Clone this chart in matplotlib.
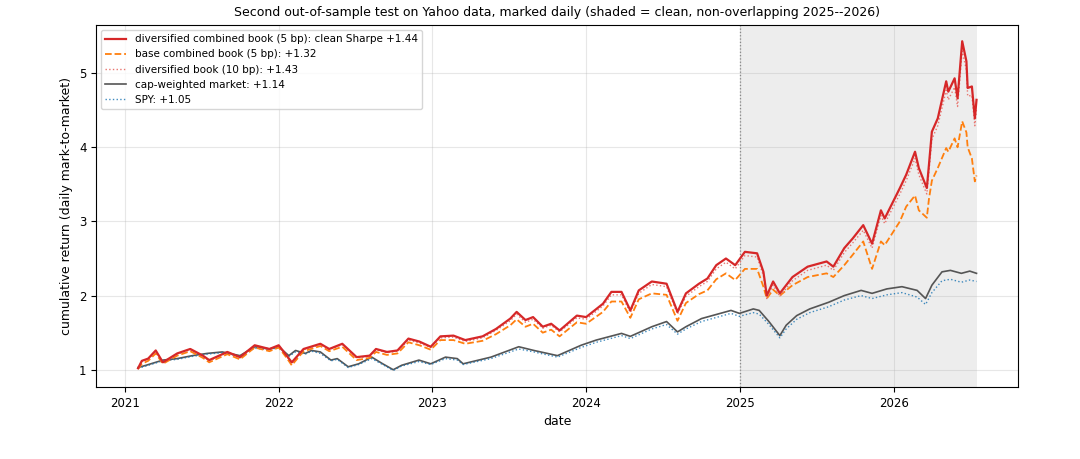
import pandas as pd
import matplotlib
matplotlib.use("Agg")
import matplotlib.pyplot as plt

# strategy books
book_dates = [
    "2021-02-01", "2021-02-10", "2021-02-25", "2021-03-15", "2021-04-01", "2021-05-05",
    "2021-06-05", "2021-07-05", "2021-07-20", "2021-09-01", "2021-10-01", "2021-11-05",
    "2021-12-10", "2022-01-01", "2022-01-20", "2022-02-01", "2022-03-01", "2022-04-10",
    "2022-05-01", "2022-06-01", "2022-07-05", "2022-08-05", "2022-08-20", "2022-09-15",
    "2022-10-10", "2022-11-05", "2022-12-01", "2022-12-28", "2023-01-20", "2023-02-20",
    "2023-03-20", "2023-04-30", "2023-06-01", "2023-07-05", "2023-07-20", "2023-08-10",
    "2023-08-28", "2023-09-20", "2023-10-10", "2023-10-30", "2023-12-10", "2024-01-01",
    "2024-02-10", "2024-03-01", "2024-03-25", "2024-04-15", "2024-05-05", "2024-06-05",
    "2024-07-10", "2024-08-05", "2024-08-25", "2024-09-25", "2024-10-15", "2024-11-05",
    "2024-11-28", "2024-12-20", "2025-01-12", "2025-02-10", "2025-02-25", "2025-03-05",
    "2025-03-20", "2025-04-05", "2025-05-05", "2025-06-10", "2025-07-25", "2025-08-10",
    "2025-09-05", "2025-09-25", "2025-10-20", "2025-11-10", "2025-12-01", "2025-12-10",
    "2026-01-15", "2026-01-30", "2026-02-20", "2026-03-01", "2026-03-20", "2026-03-25",
    "2026-04-01", "2026-04-15", "2026-05-05", "2026-05-10", "2026-05-25", "2026-06-01",
    "2026-06-12", "2026-06-22", "2026-06-25", "2026-07-05", "2026-07-12", "2026-07-16",
]
div_5bp = [
    1.02, 1.12, 1.15, 1.26, 1.10, 1.22, 1.28, 1.19, 1.13, 1.24, 1.17, 1.33,
    1.28, 1.33, 1.19, 1.10, 1.28, 1.35, 1.28, 1.35, 1.17, 1.19, 1.28, 1.24,
    1.26, 1.42, 1.38, 1.31, 1.45, 1.46, 1.40, 1.45, 1.55, 1.69, 1.78, 1.67,
    1.71, 1.58, 1.62, 1.53, 1.73, 1.71, 1.89, 2.05, 2.05, 1.80, 2.07, 2.19,
    2.16, 1.78, 2.03, 2.16, 2.23, 2.41, 2.50, 2.41, 2.59, 2.57, 2.32, 2.00,
    2.19, 2.03, 2.25, 2.39, 2.46, 2.39, 2.64, 2.77, 2.95, 2.70, 3.15, 3.04,
    3.45, 3.63, 3.94, 3.72, 3.45, 3.76, 4.21, 4.39, 4.89, 4.75, 4.93, 4.66,
    5.43, 5.16, 4.80, 4.82, 4.39, 4.64,
]
base_5bp = [
    1.01, 1.08, 1.12, 1.22, 1.08, 1.19, 1.25, 1.16, 1.10, 1.21, 1.14, 1.30,
    1.25, 1.30, 1.16, 1.06, 1.25, 1.32, 1.25, 1.31, 1.13, 1.16, 1.24, 1.20,
    1.22, 1.37, 1.33, 1.27, 1.40, 1.40, 1.35, 1.39, 1.48, 1.60, 1.68, 1.58,
    1.62, 1.50, 1.54, 1.45, 1.64, 1.62, 1.78, 1.92, 1.92, 1.70, 1.95, 2.03,
    2.01, 1.66, 1.90, 2.02, 2.07, 2.22, 2.30, 2.21, 2.36, 2.36, 2.12, 1.96,
    2.08, 2.00, 2.14, 2.25, 2.30, 2.25, 2.41, 2.55, 2.73, 2.36, 2.73, 2.68,
    3.00, 3.20, 3.35, 3.15, 3.05, 3.30, 3.55, 3.72, 3.99, 3.94, 4.12, 4.00,
    4.35, 4.20, 4.00, 3.85, 3.54, 3.62,
]
div_10bp = [
    1.02, 1.11, 1.14, 1.25, 1.09, 1.21, 1.27, 1.18, 1.12, 1.23, 1.16, 1.32,
    1.27, 1.32, 1.18, 1.09, 1.27, 1.34, 1.27, 1.34, 1.16, 1.18, 1.27, 1.23,
    1.25, 1.40, 1.36, 1.30, 1.43, 1.44, 1.38, 1.43, 1.53, 1.66, 1.75, 1.64,
    1.68, 1.56, 1.60, 1.51, 1.70, 1.68, 1.86, 2.01, 2.01, 1.77, 2.03, 2.15,
    2.12, 1.75, 1.99, 2.12, 2.19, 2.36, 2.45, 2.36, 2.54, 2.52, 2.27, 1.96,
    2.14, 1.99, 2.20, 2.34, 2.41, 2.34, 2.58, 2.71, 2.88, 2.64, 3.08, 2.97,
    3.37, 3.55, 3.85, 3.63, 3.37, 3.67, 4.11, 4.29, 4.77, 4.64, 4.81, 4.55,
    5.30, 5.04, 4.69, 4.70, 4.29, 4.52,
]

# market benchmarks
mkt_dates = [
    "2021-02-01", "2021-02-20", "2021-04-01", "2021-05-05", "2021-06-10", "2021-07-15",
    "2021-08-20", "2021-10-01", "2021-11-05", "2021-12-10", "2022-01-01", "2022-01-25",
    "2022-02-10", "2022-03-05", "2022-03-20", "2022-04-10", "2022-05-05", "2022-05-20",
    "2022-06-15", "2022-07-10", "2022-08-10", "2022-09-05", "2022-09-30", "2022-10-20",
    "2022-11-30", "2022-12-28", "2023-02-01", "2023-03-01", "2023-03-15", "2023-05-20",
    "2023-07-25", "2023-08-30", "2023-10-25", "2023-12-20", "2024-01-25", "2024-03-25",
    "2024-04-15", "2024-06-05", "2024-07-10", "2024-08-05", "2024-08-25", "2024-10-01",
    "2024-12-10", "2024-12-30", "2025-02-01", "2025-02-15", "2025-03-10", "2025-04-05",
    "2025-04-20", "2025-05-15", "2025-06-15", "2025-07-30", "2025-09-05", "2025-10-15",
    "2025-11-10", "2025-12-15", "2026-01-20", "2026-02-25", "2026-03-17", "2026-04-01",
    "2026-04-25", "2026-05-15", "2026-06-10", "2026-06-30", "2026-07-16",
]
cap_weighted = [
    1.03, 1.06, 1.13, 1.15, 1.19, 1.22, 1.24, 1.19, 1.31, 1.28, 1.31, 1.19,
    1.26, 1.22, 1.26, 1.24, 1.13, 1.15, 1.04, 1.08, 1.17, 1.08, 1.00, 1.06,
    1.13, 1.08, 1.17, 1.15, 1.08, 1.17, 1.31, 1.26, 1.19, 1.33, 1.40, 1.49,
    1.45, 1.58, 1.65, 1.51, 1.58, 1.69, 1.80, 1.76, 1.82, 1.80, 1.65, 1.46,
    1.60, 1.73, 1.82, 1.91, 2.00, 2.07, 2.03, 2.09, 2.12, 2.07, 1.96, 2.14,
    2.32, 2.34, 2.30, 2.33, 2.30,
]
spy = [
    1.02, 1.05, 1.12, 1.14, 1.18, 1.21, 1.23, 1.18, 1.29, 1.27, 1.30, 1.18,
    1.24, 1.21, 1.25, 1.22, 1.12, 1.14, 1.03, 1.07, 1.15, 1.07, 0.99, 1.05,
    1.11, 1.07, 1.15, 1.13, 1.07, 1.15, 1.28, 1.24, 1.17, 1.30, 1.37, 1.46,
    1.42, 1.55, 1.61, 1.48, 1.55, 1.65, 1.76, 1.72, 1.77, 1.75, 1.61, 1.43,
    1.55, 1.68, 1.77, 1.85, 1.94, 2.00, 1.96, 2.01, 2.04, 1.98, 1.88, 2.04,
    2.20, 2.22, 2.18, 2.21, 2.19,
]

clean_start = "2025-01-01"

bd = pd.to_datetime(book_dates)
md = pd.to_datetime(mkt_dates)

fig = plt.figure(figsize=(10.8, 4.59), dpi=100)
ax = fig.add_axes([0.089, 0.157, 0.854, 0.789])

ax.axvspan(pd.Timestamp(clean_start), bd[-1], color="#d9d9d9", alpha=0.45, lw=0, zorder=0)
ax.axvline(pd.Timestamp(clean_start), color="#777777", ls=":", lw=0.9, zorder=1)

ax.plot(bd, div_5bp, color="#d62728", lw=1.6,
        label="diversified combined book (5 bp): clean Sharpe +1.44", zorder=5)
ax.plot(bd, base_5bp, color="#ff7f0e", lw=1.3, ls="--",
        label="base combined book (5 bp): +1.32", zorder=4)
ax.plot(bd, div_10bp, color="#e8756f", lw=1.0, ls=":",
        label="diversified book (10 bp): +1.43", zorder=4)
ax.plot(md, cap_weighted, color="#555555", lw=1.2,
        label="cap-weighted market: +1.14", zorder=3)
ax.plot(md, spy, color="#1f77b4", lw=1.0, ls=":", alpha=0.85,
        label="SPY: +1.05", zorder=3)

ax.set_title("Second out-of-sample test on Yahoo data, marked daily "
             "(shaded = clean, non-overlapping 2025--2026)", fontsize=9)
ax.set_xlabel("date", fontsize=9)
ax.set_ylabel("cumulative return (daily mark-to-market)", fontsize=9)
ax.tick_params(labelsize=8.5)
ax.grid(True, alpha=0.3)
ax.legend(loc="upper left", fontsize=7.5)

fig.savefig("out.png", dpi=100)
